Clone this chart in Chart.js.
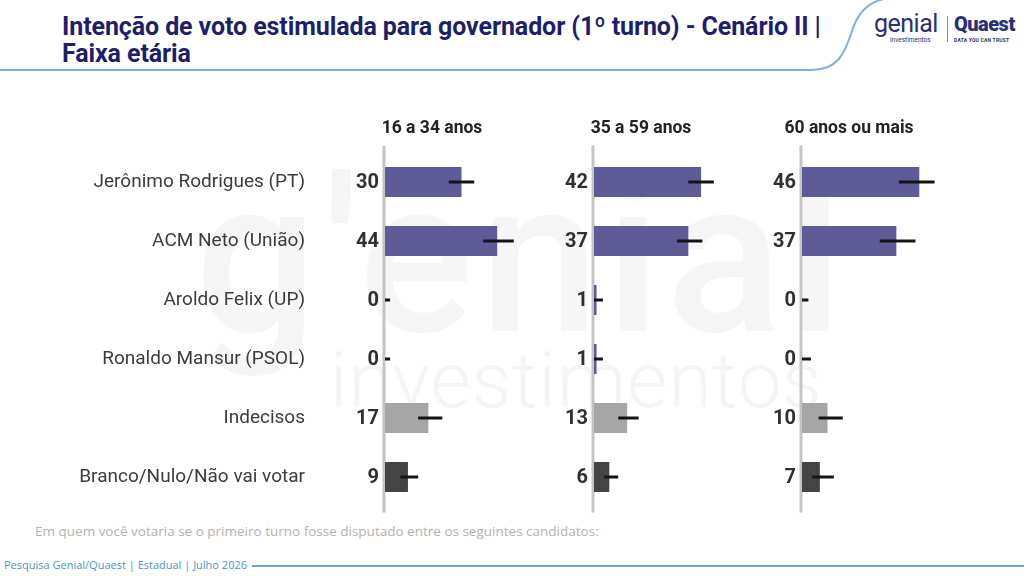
<!DOCTYPE html>
<html>
<head>
<meta charset="utf-8">
<script src="https://cdn.jsdelivr.net/npm/chart.js@4.4.1/dist/chart.umd.min.js"></script>
<style>
  html, body { margin: 0; padding: 0; background: #ffffff; }
  #page { position: relative; width: 1024px; height: 576px; overflow: hidden; background: #fff; font-family: Roboto, "Noto Sans", sans-serif; }
  #title { position: absolute; left: 62px; top: 13px; width: 820px; font-family: Roboto, sans-serif; font-weight: 700; font-size: 25px; line-height: 27px; color: #1d1f6b; letter-spacing: -0.1px; }
  .wm1 { position: absolute; left: 195px; top: 150px; font-family: Roboto, sans-serif; font-size: 215px; font-weight: 500; color: #f6f6f6; letter-spacing: 6px; line-height: 1; }
  .wm2 { position: absolute; left: 330px; top: 342px; font-family: Roboto, sans-serif; font-size: 78px; font-weight: 300; color: #f5f5f5; line-height: 1; letter-spacing: 1px; }
  .chartbox { position: absolute; }
  #note { position: absolute; left: 35px; top: 522px; font-family: "Open Sans", sans-serif; font-size: 13.5px; color: #b3b3b3; }
  #footer { position: absolute; left: 4px; top: 557px; font-family: "Open Sans", sans-serif; font-size: 11px; color: #4f93cc; }
  #logo { position: absolute; left: 874px; top: 12px; width: 145px; height: 34px; }
  .genial { position: absolute; left: 0; top: -3px; font-family: Roboto, sans-serif; font-size: 25px; color: #2b2f7a; letter-spacing: -0.5px; }
  .invest { position: absolute; left: 16px; top: 24px; font-family: Roboto, sans-serif; font-size: 6.5px; color: #2b2f7a; }
  .sep { position: absolute; left: 73px; top: 4px; width: 1px; height: 26px; background: #8a8db5; }
  .quaest { position: absolute; left: 80px; top: 0px; font-family: Roboto, sans-serif; font-weight: 900; font-size: 20px; color: #2b2f7a; letter-spacing: -0.5px; }
  .dyct { position: absolute; left: 80px; top: 25px; font-family: Roboto, sans-serif; font-weight: 700; font-size: 5px; color: #2b2f7a; letter-spacing: 0.2px; }
</style>
</head>
<body>
<div id="page">
  <div class="wm1">g'enial</div>
  <div class="wm2">investimentos</div>

  <svg width="1024" height="576" style="position:absolute;left:0;top:0">
    <path d="M0 70 H812 C838 70 845 52 851 34 C857 14 866 2 888 -2" fill="none" stroke="#7fb0dc" stroke-width="2"/>
    <line x1="252" y1="566" x2="1024" y2="566" stroke="#6aa3d6" stroke-width="2"/>
  </svg>

  <div id="title">Intenção de voto estimulada para governador (1º turno) - Cenário II |<br>Faixa etária</div>

  <div id="logo">
    <div class="genial">genial</div>
    <div class="invest">investimentos</div>
    <div class="sep"></div>
    <div class="quaest">Quaest</div>
    <div class="dyct">DATA YOU CAN TRUST</div>
  </div>

  <div class="chartbox" style="left:0px;top:100px;width:545px;height:420px"><canvas id="c1"></canvas></div>
  <div class="chartbox" style="left:554px;top:100px;width:205px;height:420px"><canvas id="c2"></canvas></div>
  <div class="chartbox" style="left:762px;top:100px;width:205px;height:420px"><canvas id="c3"></canvas></div>

  <div id="note">Em quem você votaria se o primeiro turno fosse disputado entre os seguintes candidatos:</div>
  <div id="footer">Pesquisa Genial/Quaest | Estadual | Julho 2026</div>
</div>

<script>
// ---- DATA ----
const categories = [
  'Jerônimo Rodrigues (PT)',
  'ACM Neto (União)',
  'Aroldo Felix (UP)',
  'Ronaldo Mansur (PSOL)',
  'Indecisos',
  'Branco/Nulo/Não vai votar'
];
const panelTitles = ['16 a 34 anos', '35 a 59 anos', '60 anos ou mais'];

const values16to34 = [30, 44, 0, 0, 17, 9];
const values35to59 = [42, 37, 1, 1, 13, 6];
const values60plus = [46, 37, 0, 0, 10, 7];

// error bar ends (lower / upper)
const low16to34  = [25, 38.5, 0, 0, 13, 6];
const high16to34 = [35, 50.5, 2, 2, 22.5, 13];
const low35to59  = [37, 32.5, 0, 0, 9.5, 4];
const high35to59 = [47, 42.5, 3.5, 3.5, 17.5, 9.5];
const low60plus  = [38, 30.5, 0, 0, 6.5, 4];
const high60plus = [52, 44.5, 2.5, 3.5, 16, 12.5];

// ---- STYLE ----
const PURPLE = '#5f5b98';
const LIGHT = '#a6a6a6';
const DARK = '#444444';
const barColors = [PURPLE, PURPLE, PURPLE, PURPLE, LIGHT, DARK];

const decorPlugin = {
  id: 'decor',
  beforeDatasetsDraw(chart) {
    const ctx = chart.ctx;
    const xs = chart.scales.x;
    const x0 = xs.getPixelForValue(0);
    const a = chart.chartArea;
    ctx.save();
    ctx.strokeStyle = '#c4c4c4';
    ctx.lineWidth = 3;
    ctx.beginPath();
    ctx.moveTo(x0 - 1, a.top - 7);
    ctx.lineTo(x0 - 1, a.bottom + 6);
    ctx.stroke();
    // header
    ctx.fillStyle = '#222222';
    ctx.font = 'bold 17.5px Roboto, sans-serif';
    ctx.textAlign = 'center';
    ctx.textBaseline = 'middle';
    ctx.fillText(chart.options.plugins.decor.header, x0 + 47, a.top - 24);
    ctx.restore();
  },
  afterDatasetsDraw(chart) {
    const ctx = chart.ctx;
    const xs = chart.scales.x;
    const x0 = xs.getPixelForValue(0);
    const opts = chart.options.plugins.decor;
    const meta = chart.getDatasetMeta(0);
    const vals = chart.data.datasets[0].data;
    ctx.save();
    meta.data.forEach((bar, i) => {
      const y = bar.y;
      // error bar
      const xl = xs.getPixelForValue(opts.low[i]);
      const xh = xs.getPixelForValue(opts.high[i]);
      ctx.strokeStyle = '#141414';
      ctx.lineWidth = 3;
      ctx.beginPath();
      ctx.moveTo(xl, y);
      ctx.lineTo(xh, y);
      ctx.stroke();
      // value label
      ctx.fillStyle = '#303030';
      ctx.font = 'bold 20px Roboto, sans-serif';
      ctx.textAlign = 'right';
      ctx.textBaseline = 'middle';
      ctx.fillText(String(vals[i]), x0 - 6, y + 1);
    });
    ctx.restore();
  }
};

function makeChart(id, values, low, high, header, showLabels) {
  return new Chart(document.getElementById(id), {
    type: 'bar',
    data: {
      labels: categories,
      datasets: [{
        data: values,
        backgroundColor: barColors,
        borderWidth: 0,
        barPercentage: 30 / 59,
        categoryPercentage: 1
      }]
    },
    plugins: [decorPlugin],
    options: {
      indexAxis: 'y',
      responsive: true,
      maintainAspectRatio: false,
      animation: false,
      layout: { padding: { top: 52.5, bottom: 13.5, left: showLabels ? 0 : 40, right: showLabels ? 7 : 12 } },
      plugins: {
        legend: { display: false },
        tooltip: { enabled: false },
        decor: { header: header, low: low, high: high }
      },
      scales: {
        x: { display: false, min: 0, max: 60 },
        y: {
          display: showLabels,
          grid: { display: false, drawTicks: true, tickLength: 80 },
          border: { display: false },
          ticks: {
            padding: 0,
            color: '#3c3c3c',
            font: { family: 'Roboto, sans-serif', size: 19 }
          },
          afterFit(scale) { if (showLabels) scale.width = 385; }
        }
      }
    }
  });
}

makeChart('c1', values16to34, low16to34, high16to34, panelTitles[0], true);
makeChart('c2', values35to59, low35to59, high35to59, panelTitles[1], false);
makeChart('c3', values60plus, low60plus, high60plus, panelTitles[2], false);
</script>
</body>
</html>
